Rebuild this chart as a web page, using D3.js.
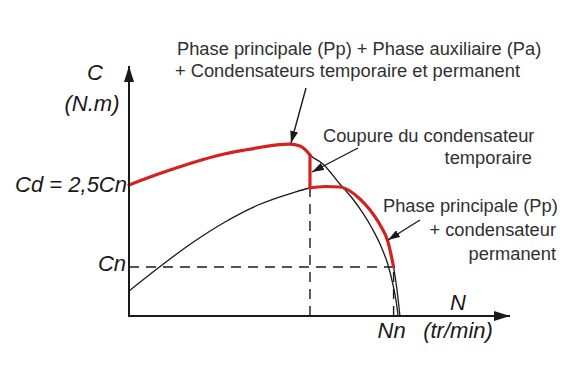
<!DOCTYPE html>
<html><head><meta charset="utf-8">
<script src="https://cdn.jsdelivr.net/npm/d3@7/dist/d3.min.js"></script>
<style>
html,body{margin:0;padding:0;background:#fff;}
svg{display:block;}
text{font-family:"Liberation Sans",Arial,sans-serif;}
</style></head>
<body>
<script>
// Torque curves (N in % of Nn, C in units of Cn)
const upperCurve = [ // Phase principale + Phase auxiliaire + condensateurs
  [0,2.672],[7.94,2.836],[15.5,2.978],[24.9,3.142],[34.4,3.284],[43.8,3.386],[49.5,3.440],
  [55.2,3.485],[60.8,3.505],[64.6,3.470],[66.5,3.400],[68.4,3.284],[73.3,3.101],[79.7,2.693],
  [84.3,2.407],[88.1,2.122],[91.8,1.795],[95.2,1.428],[97.9,1.040],[99.8,0.632],[100.9,0.326],[101.7,0]
];
const lowerCurve = [ // Phase principale + condensateur permanent
  [0,0.510],[11.0,0.979],[23.8,1.489],[36.3,1.918],[48.8,2.264],[61.6,2.509],[68.4,2.611],
  [74.1,2.642],[79.7,2.632],[83.5,2.550],[87.3,2.387],[91.1,2.162],[94.9,1.856],[97.9,1.510],
  [100,1.0],[101.3,0.530],[102.4,0]
];
const switchN = 68.4;   // coupure du condensateur temporaire
const Nn = 100;
const Cn = 1;
const Cd = 2.672;
const xMax = 144, yMax = 5.1;

const axisLabelsY = ["C", "(N.m)"];
const axisLabelsX = ["N", "(tr/min)"];
const tickLabelsY = ["Cd = 2,5Cn", "Cn"];
const tickLabelsX = ["Nn"];
const note1 = ["Phase principale (Pp) + Phase auxiliaire (Pa)", "+ Condensateurs temporaire et permanent"];
const note2 = ["Coupure du condensateur", "temporaire"];
const note3 = ["Phase principale (Pp)", "+ condensateur", "permanent"];

const W = 570, H = 380;
const svg = d3.select("body").append("svg").attr("width", W).attr("height", H);
const x = d3.scaleLinear().domain([0, xMax]).range([129, 510]);
const y = d3.scaleLinear().domain([0, yMax]).range([316, 66]);

const red = "#d42222", ink = "#1a1a1a", txt = "#303030";

const defs = svg.append("defs");
defs.append("marker").attr("id","ah").attr("viewBox","0 0 12 8").attr("refX",12).attr("refY",4)
  .attr("markerWidth",12).attr("markerHeight",8).attr("markerUnits","userSpaceOnUse").attr("orient","auto")
  .append("path").attr("d","M0,0 L12,4 L0,8 Z").attr("fill", ink);
defs.append("marker").attr("id","axh").attr("viewBox","0 0 16 10").attr("refX",16).attr("refY",5)
  .attr("markerWidth",16).attr("markerHeight",10).attr("markerUnits","userSpaceOnUse").attr("orient","auto")
  .append("path").attr("d","M0,0 L16,5 L0,10 Z").attr("fill", ink);

const line = d3.line().x(d => x(d[0])).y(d => y(d[1])).curve(d3.curveMonotoneX);
const interp = (arr, n) => { for (let i=1;i<arr.length;i++){ if (arr[i][0]>=n){ const a=arr[i-1], b=arr[i]; return a[1]+(b[1]-a[1])*(n-a[0])/(b[0]-a[0]); } } return arr[arr.length-1][1]; };

// dashed guides
const dash = "10,7";
const g = svg.append("g").attr("stroke", ink).attr("stroke-width", 1.4).attr("stroke-dasharray", dash).attr("fill","none");
g.append("line").attr("x1", x(0)).attr("x2", x(Nn)).attr("y1", y(Cn)).attr("y2", y(Cn));
g.append("line").attr("x1", x(switchN)).attr("x2", x(switchN)).attr("y1", y(0)).attr("y2", y(interp(lowerCurve, switchN)));
g.append("line").attr("x1", x(Nn)).attr("x2", x(Nn)).attr("y1", y(0)).attr("y2", y(Cn));

// black curves
svg.append("path").datum(upperCurve).attr("d", line).attr("fill","none").attr("stroke", ink).attr("stroke-width", 1.3);
svg.append("path").datum(lowerCurve).attr("d", line).attr("fill","none").attr("stroke", ink).attr("stroke-width", 1.3);

// red operating curve
const redA = upperCurve.filter(d => d[0] <= switchN);
const redB = lowerCurve.filter(d => d[0] >= switchN && d[0] <= Nn);
const rg = svg.append("g").attr("fill","none").attr("stroke", red).attr("stroke-width", 3.2).attr("stroke-linejoin","round").attr("stroke-linecap","round");
rg.append("path").datum(redA).attr("d", line);
rg.append("line").attr("x1", x(switchN)).attr("x2", x(switchN)).attr("y1", y(interp(upperCurve, switchN))).attr("y2", y(interp(lowerCurve, switchN)));
rg.append("path").datum(redB).attr("d", line);

// axes
svg.append("line").attr("x1", x(0)).attr("y1", y(0)).attr("x2", x(0)).attr("y2", y(yMax))
  .attr("stroke", ink).attr("stroke-width", 2).attr("marker-end","url(#axh)");
svg.append("line").attr("x1", x(0)-1).attr("y1", y(0)).attr("x2", x(xMax)).attr("y2", y(0))
  .attr("stroke", ink).attr("stroke-width", 2).attr("marker-end","url(#axh)");

// axis labels
const it = (t, px, py, anchor) => svg.append("text").text(t).attr("x", px).attr("y", py)
  .attr("text-anchor", anchor).attr("font-size", 22).attr("font-style","italic").attr("fill", ink);
it(axisLabelsY[0], 95, 80, "middle");
it(axisLabelsY[1], 92, 111, "middle");
it(tickLabelsY[0], x(0)-2, y(Cd)+7, "end");
it(tickLabelsY[1], x(0)-3, y(Cn)+4, "end");
it(axisLabelsX[0], 458, 310, "middle");
it(axisLabelsX[1], 458, 338, "middle");
it(tickLabelsX[0], x(Nn)-2, 338, "middle");

// annotations
const ann = (lines, px, baselines, anchor) => lines.forEach((t,i) => svg.append("text").text(t)
  .attr("x", px[i]).attr("y", baselines[i]).attr("text-anchor", anchor[i]).attr("font-size", 18.3).attr("fill", txt));
ann(note1, [177, 175], [55, 77], ["start","start"]);
ann(note2, [323, 532], [142, 164], ["start","end"]);
ann(note3, [383, 556, 556], [212, 236, 260], ["start","end","end"]);

// pointer arrows
const arr = (x1,y1,x2,y2) => svg.append("line").attr("x1",x1).attr("y1",y1).attr("x2",x2).attr("y2",y2)
  .attr("stroke", ink).attr("stroke-width", 1.4).attr("marker-end","url(#ah)");
arr(306, 88, 291, 143);
arr(358, 148, 312, 172);
arr(420, 220, 388, 240);
</script>
</body></html>
